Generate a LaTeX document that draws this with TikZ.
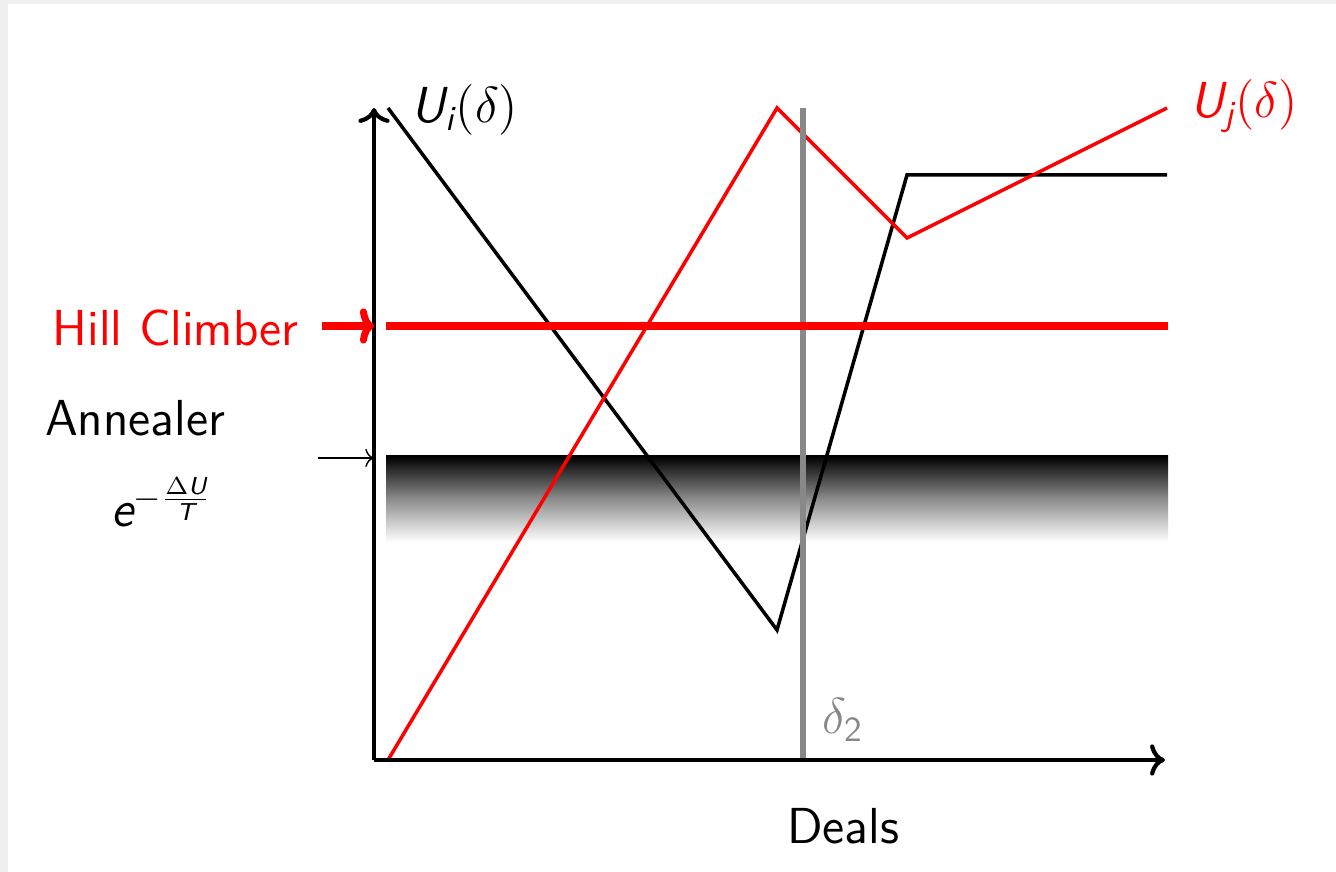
\documentclass[tikz,border=0pt]{standalone}
\usepackage{amsmath,amssymb}
\usepackage{xcolor}
\usepackage{tikz}
\usetikzlibrary{positioning, arrows.meta}
\definecolor{PageGray}{HTML}{F0F0F0}
\definecolor{DealGray}{HTML}{888888}
\newcommand{\sfv}[1]{\textsf{\itshape #1}}
\tikzset{
  lbl/.style={font=\Large\sffamily, inner sep=1pt},
  axisline/.style={line width=1.2pt, ->},
  curve/.style={line width=1pt, line join=miter}
}

\begin{document}
\begin{tikzpicture}
      \useasboundingbox (0,0) rectangle (13.36,8.72);
      \fill[PageGray] (0,0) rectangle (13.36,8.72);
      \fill[white] (0.08,0) rectangle (13.36,8.68);
      % axes
      \coordinate (o) at (3.74,1.12);
      \coordinate (ytop) at (3.74,7.64);
      \coordinate (xend) at (11.65,1.12);
      % annealer band
      \shade[top color=black, bottom color=white, middle color=black!45] (3.86,3.30) rectangle (11.68,4.16);
      % utility points
      \coordinate (i0) at (3.88,7.64);
      \coordinate (i1) at (7.77,2.42);
      \coordinate (i2) at (9.07,6.97);
      \coordinate (i3) at (11.67,6.97);
      \coordinate (j0) at (3.88,1.12);
      \coordinate (j1) at (7.77,7.64);
      \coordinate (j2) at (9.07,6.34);
      \coordinate (j3) at (11.67,7.64);
      \coordinate (d2top) at (8.03,7.64);
      \coordinate (d2bot) at (8.03,1.12);
      \coordinate (hl) at (3.86,5.46);
      \coordinate (hr) at (11.68,5.46);
      \coordinate (hy) at (3.74,5.46);
      \coordinate (ay) at (3.74,4.14);
      \draw[curve] (i0) -- (i1) -- (i2) -- (i3);
      \draw[curve, red] (j0) -- (j1) -- (j2) -- (j3);
      \draw[DealGray, line width=1.5pt] (d2top) -- (d2bot);
      \draw[red, line width=2pt] (hl) -- (hr);
      \draw[axisline] (o) -- (ytop);
      \draw[axisline] (o) -- (xend);
      % labels
      \node[lbl] (ui) at (4.65,7.62) {$\sfv{U}_{\sfv{i}}(\delta)$};
      \node[lbl, text=red] (uj) at (12.44,7.66) {$\sfv{U}_{\sfv{j}}(\delta)$};
      \node[lbl, text=red, anchor=east] (hill) at (3.03,5.44) {Hill Climber};
      \node[lbl] (anneal) at (1.35,4.54) {Annealer};
      \node[lbl] (boltz) at (1.62,3.70) {$\sfv{e}^{-\frac{\Delta \sfv{U}}{\sfv{T}}}$};
      \node[lbl, text=DealGray] (d2) at (8.43,1.52) {$\delta_{\textsf{2}}$};
      \node[lbl] (deals) at (8.43,0.46) {Deals};
      \coordinate (hs) at (3.22,5.46);
      \coordinate (astart) at (3.18,4.14);
      \draw[red, line width=2pt, -{To[length=4pt,width=10pt]}] (hs) -- (hy);
      \draw[->] (astart) -- (ay);
    \end{tikzpicture}
\end{document}
